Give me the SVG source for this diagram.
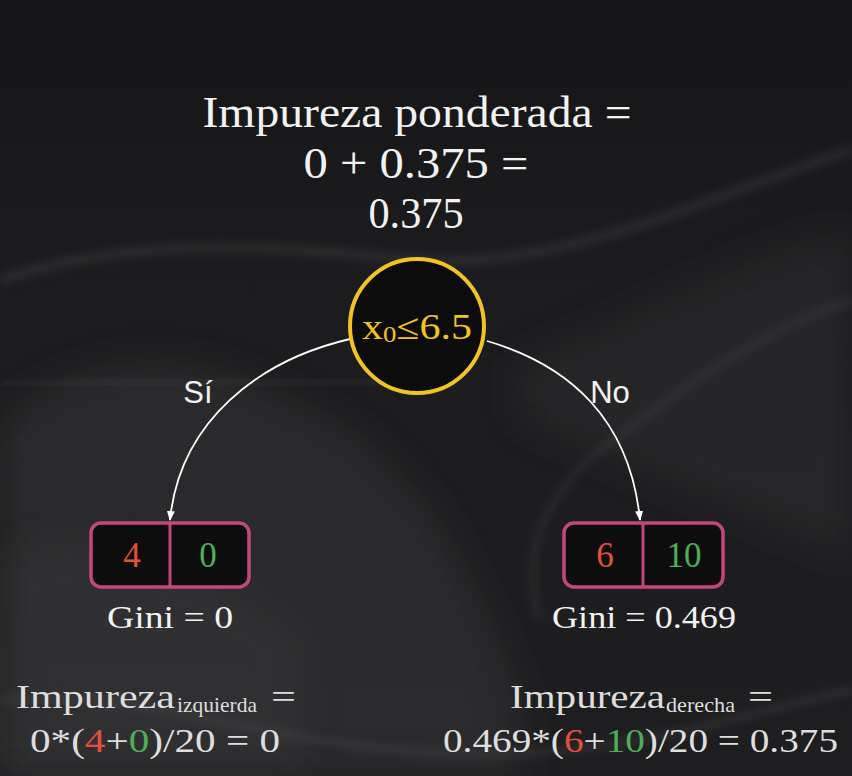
<svg xmlns="http://www.w3.org/2000/svg" width="852" height="776" viewBox="0 0 852 776">
  <defs>
    <linearGradient id="bg" x1="0" y1="0" x2="0" y2="1">
      <stop offset="0" stop-color="#151517"/>
      <stop offset="0.35" stop-color="#1c1c1e"/>
      <stop offset="1" stop-color="#1e1e20"/>
    </linearGradient>
    <filter id="blur" x="-20%" y="-20%" width="140%" height="140%">
      <feGaussianBlur stdDeviation="18"/>
    </filter>
    <filter id="blur2" x="-20%" y="-20%" width="140%" height="140%">
      <feGaussianBlur stdDeviation="4"/>
    </filter>
    <marker id="arrow" viewBox="0 0 10 10" refX="9" refY="5" markerWidth="10" markerHeight="10" orient="auto-start-reverse" markerUnits="userSpaceOnUse">
      <path d="M0,1 L10,5 L0,9 z" fill="#ffffff"/>
    </marker>
    <style>
      .serif { font-family: "Liberation Serif", "DejaVu Serif", serif; }
      .sans { font-family: "Liberation Sans", Arial, sans-serif; }
      .white { fill: #f2f2f2; }
      .grey { fill: #dedede; }
      .red { fill: #e2503c; }
      .green { fill: #4fae55; }
      .box { fill: #0d0d0e; stroke: #c2487c; stroke-width: 3.5; }
      .div { stroke: #c2487c; stroke-width: 3; }
      .edge { fill: none; stroke: #ffffff; stroke-width: 1.8; }
    </style>
  </defs>

  <!-- background -->
  <rect width="852" height="776" fill="url(#bg)"/>
  <g id="background-waves">
    <path d="M0,420 C120,330 220,360 330,420 C420,470 470,560 520,700 L520,776 L0,776 Z" fill="#3a3a3c" opacity="0.45" filter="url(#blur)"/>
    <path d="M0,560 C100,520 200,560 300,640 L300,776 L0,776 Z" fill="#3a3a3c" opacity="0.35" filter="url(#blur)"/>
    <path d="M520,360 C620,330 720,260 852,230 L852,560 C760,520 640,470 520,420 Z" fill="#333335" opacity="0.45" filter="url(#blur)"/>
    <path d="M0,280 C150,230 300,250 420,260 C560,270 700,200 852,150" fill="none" stroke="#5a5a5c" stroke-width="10" opacity="0.25" filter="url(#blur2)"/>
    <path d="M0,385 C120,380 260,380 400,382" fill="none" stroke="#6a6a6c" stroke-width="5" opacity="0.2" filter="url(#blur2)"/>
    <path d="M852,300 C760,330 680,390 600,450 C540,500 520,560 540,620" fill="none" stroke="#5a5a5c" stroke-width="8" opacity="0.2" filter="url(#blur2)"/>
    <path d="M0,700 C150,690 250,740 420,752 C600,765 720,720 852,690" fill="none" stroke="#5a5a5c" stroke-width="8" opacity="0.25" filter="url(#blur2)"/>
  </g>

  <!-- title -->
  <g id="title" class="serif white" text-anchor="middle">
    <text x="417" y="127" font-size="44" textLength="429" lengthAdjust="spacingAndGlyphs">Impureza ponderada =</text>
    <text x="416" y="178" font-size="44" textLength="225" lengthAdjust="spacingAndGlyphs">0 + 0.375 =</text>
    <text x="416" y="228" font-size="44" textLength="95" lengthAdjust="spacingAndGlyphs">0.375</text>
  </g>

  <!-- connectors -->
  <g id="connectors">
    <path class="edge" d="M350,339 C260,360 180,420 170,520" marker-end="url(#arrow)"/>
    <path class="edge" d="M487,341 C570,365 630,420 640,520" marker-end="url(#arrow)"/>
    <text class="sans white" x="198" y="403" font-size="31" text-anchor="middle">Sí</text>
    <text class="sans white" x="610" y="403" font-size="31" text-anchor="middle">No</text>
  </g>

  <!-- root node -->
  <g id="root">
    <circle cx="417" cy="326" r="67" fill="#0c0c0c" stroke="#f3c324" stroke-width="4"/>
    <text class="serif" x="417" y="339" font-size="36" fill="#f3c324" text-anchor="middle" textLength="110" lengthAdjust="spacingAndGlyphs">x<tspan font-size="23" dy="3">0</tspan><tspan dy="-3">≤6.5</tspan></text>
  </g>

  <!-- left leaf -->
  <g id="leaf-left">
    <rect class="box" x="91" y="523" width="158" height="64" rx="10"/>
    <line class="div" x1="170" y1="523" x2="170" y2="587"/>
    <text class="serif red" x="132" y="567" font-size="35" text-anchor="middle">4</text>
    <text class="serif green" x="208" y="567" font-size="35" text-anchor="middle">0</text>
    <text class="serif white" x="170" y="628" font-size="32" text-anchor="middle" textLength="126" lengthAdjust="spacingAndGlyphs">Gini = 0</text>
  </g>

  <!-- right leaf -->
  <g id="leaf-right">
    <rect class="box" x="564" y="523" width="159" height="64" rx="10"/>
    <line class="div" x1="643" y1="523" x2="643" y2="587"/>
    <text class="serif red" x="605" y="567" font-size="35" text-anchor="middle">6</text>
    <text class="serif green" x="684" y="567" font-size="35" text-anchor="middle">10</text>
    <text class="serif white" x="644" y="628" font-size="32" text-anchor="middle" textLength="184" lengthAdjust="spacingAndGlyphs">Gini = 0.469</text>
  </g>

  <!-- left impurity -->
  <g id="impureza-izquierda" class="serif grey">
    <text x="16" y="708" font-size="34" textLength="159" lengthAdjust="spacingAndGlyphs">Impureza</text>
    <text x="177" y="712" font-size="21" textLength="80" lengthAdjust="spacingAndGlyphs">izquierda</text>
    <text x="271" y="708" font-size="34" textLength="25" lengthAdjust="spacingAndGlyphs">=</text>
    <text x="30" y="752" font-size="34" textLength="250" lengthAdjust="spacingAndGlyphs">0*(<tspan class="red">4</tspan>+<tspan class="green">0</tspan>)/20 = 0</text>
  </g>

  <!-- right impurity -->
  <g id="impureza-derecha" class="serif grey">
    <text x="510" y="708" font-size="34" textLength="155" lengthAdjust="spacingAndGlyphs">Impureza</text>
    <text x="666" y="712" font-size="21" textLength="69" lengthAdjust="spacingAndGlyphs">derecha</text>
    <text x="748" y="708" font-size="34" textLength="25" lengthAdjust="spacingAndGlyphs">=</text>
    <text x="443" y="752" font-size="34" textLength="395" lengthAdjust="spacingAndGlyphs">0.469*(<tspan class="red">6</tspan>+<tspan class="green">10</tspan>)/20 = 0.375</text>
  </g>
</svg>
